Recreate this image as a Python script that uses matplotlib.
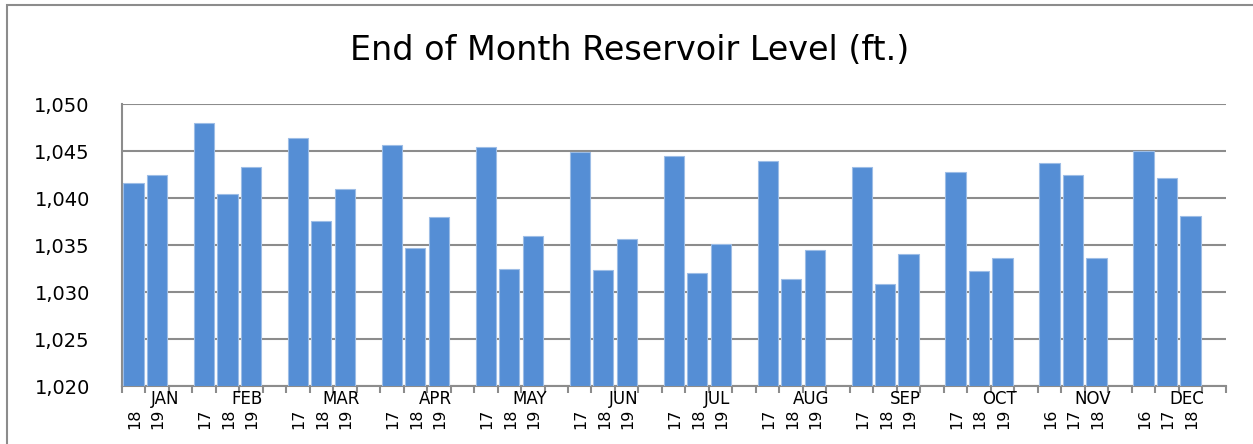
import matplotlib
matplotlib.use("Agg")
import matplotlib.pyplot as plt
import matplotlib.transforms as mtransforms
from matplotlib.patches import Rectangle

title = "End of Month Reservoir Level (ft.)"
months = ["JAN", "FEB", "MAR", "APR", "MAY", "JUN", "JUL", "AUG", "SEP", "OCT", "NOV", "DEC"]
years = [
    ["18", "19"],
    ["17", "18", "19"],
    ["17", "18", "19"],
    ["17", "18", "19"],
    ["17", "18", "19"],
    ["17", "18", "19"],
    ["17", "18", "19"],
    ["17", "18", "19"],
    ["17", "18", "19"],
    ["17", "18", "19"],
    ["16", "17", "18"],
    ["16", "17", "18"],
]
levels = [
    [1041.6, 1042.5],
    [1048.0, 1040.45, 1043.3],
    [1046.4, 1037.6, 1040.95],
    [1045.7, 1034.7, 1038.0],
    [1045.4, 1032.45, 1036.0],
    [1044.9, 1032.4, 1035.7],
    [1044.5, 1032.0, 1035.1],
    [1043.95, 1031.4, 1034.5],
    [1043.3, 1030.9, 1034.1],
    [1042.8, 1032.3, 1033.6],
    [1043.7, 1042.5, 1033.65],
    [1045.0, 1042.1, 1038.1],
]
y_ticks = [1020, 1025, 1030, 1035, 1040, 1045, 1050]

W, H = 1253, 444
fig = plt.figure(figsize=(W / 100, H / 100), dpi=100)
ax = fig.add_axes([121.7 / W, 1 - 386 / H, (1225.7 - 121.7) / W, (386 - 104.3) / H])

bar_color = "#558ED5"
edge_color = "#9DBDE6"
grid_color = "#8C8C8C"

# build slot positions: each month group = its years + one blank slot
xs, vals, yl = [], [], []
group_bounds = []
slot = 0
for m, ys, lv in zip(months, years, levels):
    start = slot
    for y, v in zip(ys, lv):
        xs.append(slot)
        vals.append(v)
        yl.append(y)
        slot += 1
    slot += 1  # blank slot
    group_bounds.append((start, slot))
n_slots = slot

ax.bar(xs, [v - 1020 for v in vals], bottom=1020, width=0.86, color=bar_color,
       edgecolor=edge_color, linewidth=0.8, zorder=3)

ax.set_xlim(-0.5, n_slots - 0.5)
ax.set_ylim(1020, 1050)
ax.set_yticks(y_ticks)
ax.set_yticklabels([f"{t:,}" for t in y_ticks], fontsize=14, color="#000000")
ax.tick_params(axis="y", length=0, pad=23)
ax.yaxis.grid(True, color=grid_color, linewidth=1.5, zorder=0)
ax.set_axisbelow(True)

ax.set_xticks([k - 0.5 for k in range(n_slots + 1)])
ax.set_xticklabels([])
ax.tick_params(axis="x", length=5, width=1.5, color=grid_color, direction="out")

for s in ["top", "right"]:
    ax.spines[s].set_visible(False)
for s in ["left", "bottom"]:
    ax.spines[s].set_color(grid_color)
    ax.spines[s].set_linewidth(1.5)

trans = mtransforms.blended_transform_factory(ax.transData, ax.transAxes)
for x, y in zip(xs, yl):
    ax.text(x + 0.05, 0, y, transform=trans + mtransforms.ScaledTranslation(0, -16.5 / 72, fig.dpi_scale_trans),
            rotation=90, ha="center", va="top", fontsize=11.5)
for m, (a, b) in zip(months, group_bounds):
    c = (a + b - 1) / 2.0 + 0.35
    ax.text(c, 0, m, transform=trans + mtransforms.ScaledTranslation(0, -9.7 / 72, fig.dpi_scale_trans),
            ha="center", va="center", fontsize=12)

fig.text(630 / W, 1 - 50 / H, title, ha="center", va="center", fontsize=24)

fig.patches.append(Rectangle((7 / W, -0.1), 1.2, 1.1 - 5 / H, transform=fig.transFigure,
                             fill=False, edgecolor=grid_color, linewidth=1.5))

fig.savefig("out.png", dpi=100)
